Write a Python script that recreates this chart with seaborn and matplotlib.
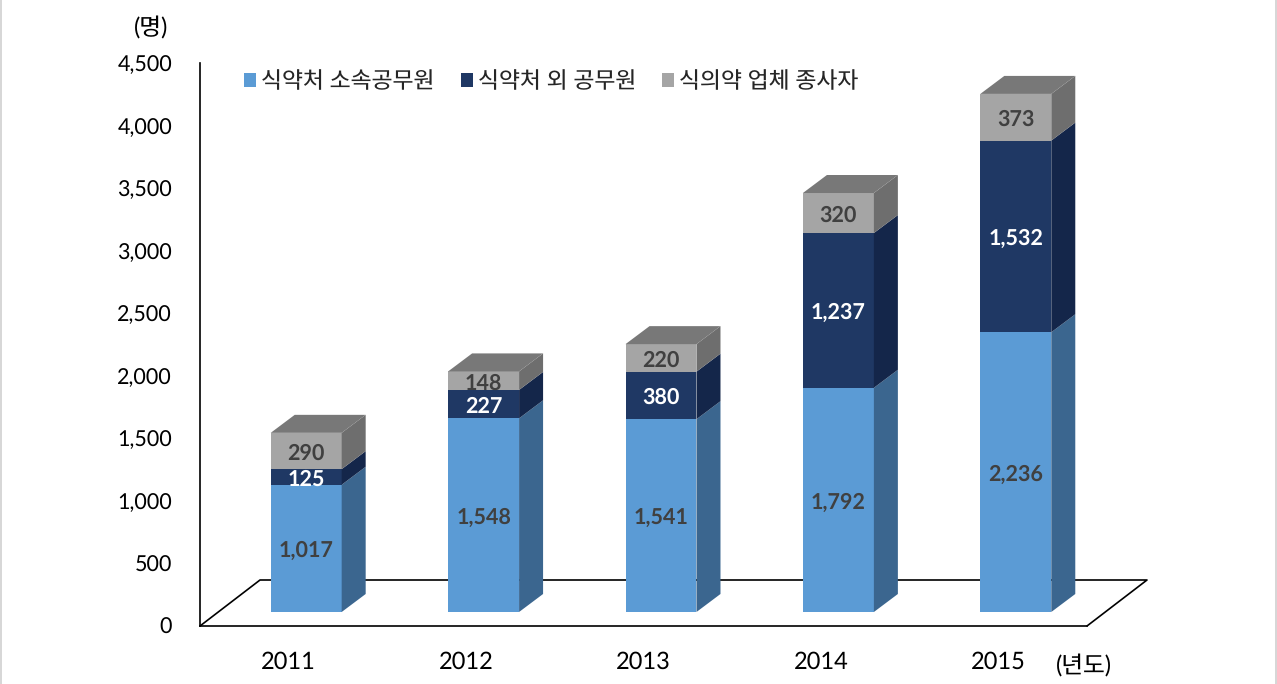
import numpy as np
import pandas as pd
import matplotlib
matplotlib.use('Agg')
import matplotlib.pyplot as plt
from matplotlib.lines import Line2D
import seaborn as sns

years = ['2011', '2012', '2013', '2014', '2015']
staff = [1017, 1548, 1541, 1792, 2236]
other_officials = [125, 227, 380, 1237, 1532]
industry = [290, 148, 220, 320, 373]
series_names = ['식약처 소속공무원', '식약처 외 공무원', '식의약 업체 종사자']
y_ticks = [0, 500, 1000, 1500, 2000, 2500, 3000, 3500, 4000, 4500]

front_colors = ['#5B9BD5', '#1F3864', '#A5A5A5']
side_colors = ['#3B668F', '#14264A', '#6E6E6E']
top_color = '#787878'
label_colors = ['#404040', 'white', '#404040']

W, H = 1277, 684
sns.set_theme(style='white')
plt.rcParams['font.family'] = ['Lato', 'Noto Sans CJK KR', 'DejaVu Sans']
plt.rcParams['text.hinting'] = 'no_hinting'

fig = plt.figure(figsize=(W / 100, H / 100), dpi=100)
ax = fig.add_axes([200 / W, 1 - 626 / H, 887 / W, 563 / H])

# pixel sizes turned into data units
px_x = 5 / 887
px_y = 4500 / 563
shift_x = 17.5 * px_x
lift_y = 14 * px_y
depth_x, depth_y = 24 * px_x, 18 * px_y

df = pd.DataFrame({'year': years, 'staff': staff, 'other': other_officials, 'industry': industry})
columns = ['staff', 'other', 'industry']
bottoms = np.zeros(len(df))
for col, color in zip(columns, front_colors):
    sns.barplot(data=df, x='year', y=col, bottom=bottoms, color=color, saturation=1,
                width=0.4, ax=ax, zorder=3, linewidth=0)
    bottoms = bottoms + df[col].to_numpy()

ax.set_xlim(-0.5, 4.5)
ax.set_ylim(0, 4500)

# move the fronts up and right, add side and top faces
for k, container in enumerate(ax.containers):
    for i, bar in enumerate(container):
        bar.set_x(bar.get_x() + shift_x)
        bar.set_y(bar.get_y() + lift_y)
        x1 = bar.get_x() + bar.get_width()
        y0 = bar.get_y()
        y1 = y0 + bar.get_height()
        ax.fill([x1, x1 + depth_x, x1 + depth_x, x1],
                [y0, y0 + depth_y, y1 + depth_y, y1],
                color=side_colors[k], lw=0, zorder=3, clip_on=False)
        if k == 2:
            x0 = bar.get_x()
            ax.fill([x0, x0 + depth_x, x1 + depth_x, x1],
                    [y1, y1 + depth_y, y1 + depth_y, y1],
                    color=top_color, lw=0, zorder=3, clip_on=False)
        ax.text(bar.get_x() + bar.get_width() / 2, (y0 + y1) / 2 - 2.5 * px_y,
                f'{int(bar.get_height()):,}', ha='center', va='center', fontsize=15.5,
                fontweight='bold', color=label_colors[k], zorder=5, clip_on=False)

# floor of the 3d box
floor_x = 60 * px_x
floor_y = 46 * px_y
ax.plot([-0.5, -0.5 + floor_x, 4.5 + floor_x, 4.5], [0, floor_y, floor_y, 0],
        color='black', lw=1.2, zorder=1, clip_on=False)

ax.set_xlabel('')
ax.set_ylabel('')
ax.set_yticks(y_ticks)
ax.set_yticklabels([f'{v:,}' for v in y_ticks])
ax.tick_params(axis='x', length=0, pad=18, labelsize=17, colors='black')
ax.tick_params(axis='y', length=0, pad=20, labelsize=15.5, colors='black')
for side in ['top', 'right']:
    ax.spines[side].set_visible(False)
for side in ['left', 'bottom']:
    ax.spines[side].set_color('black')
    ax.spines[side].set_linewidth(1.2)

handles = [c[0] for c in ax.containers]
ax.legend(handles, series_names, ncol=3, frameon=False, fontsize=16.4,
          loc='center left', bbox_to_anchor=(44 / 887, 0.967), handlelength=0.53, handleheight=0.53,
          handletextpad=0.22, columnspacing=1.14, borderpad=0, borderaxespad=0)

fig.text(151 / W, 1 - 28 / H, '(명)', ha='center', va='center', fontsize=17, color='black')
fig.text(1084 / W, 1 - 666 / H, '(년도)', ha='center', va='center', fontsize=17, color='black')

# faint grey edge of the picture, left and right
for fx in [1 / W, 1 - 1 / W]:
    fig.add_artist(Line2D([fx, fx], [0, 1], color='#D0D0D0', lw=1.2))

fig.savefig('out.png', dpi=100)
